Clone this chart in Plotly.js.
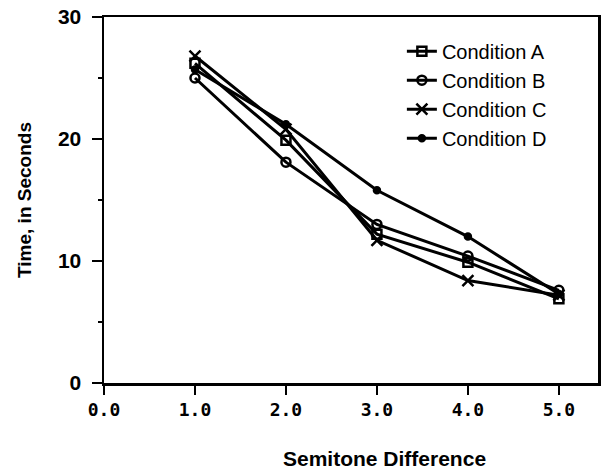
<!DOCTYPE html>
<html>
<head>
<meta charset="utf-8">
<script src="https://cdn.plot.ly/plotly-3.0.1.min.js"></script>
<style>html,body{margin:0;padding:0;background:#fff;}#chart{width:611px;height:474px;}</style>
</head>
<body>
<div id="chart"></div>
<script>
var semitones = [1, 2, 3, 4, 5];
var condA = [26.2, 19.9, 12.2, 9.9, 6.9];
var condB = [25.0, 18.1, 13.0, 10.4, 7.6];
var condC = [26.8, 20.8, 11.7, 8.4, 7.2];
var condD = [25.7, 21.2, 15.8, 12.0, 7.3];
var names = ['Condition A', 'Condition B', 'Condition C', 'Condition D'];
var xTicks = [0, 1, 2, 3, 4, 5];
var xTickText = ['0.0', '1.0', '2.0', '3.0', '4.0', '5.0'];
var yTicks = [0, 10, 20, 30];

var series = [condA, condB, condC, condD];
var symbols = ['square-open', 'circle-open', 'x-thin-open', 'circle'];
var sizes = [9, 9, 11, 6];
var traces = series.map(function (vals, i) {
  return {
    x: semitones, y: vals, name: names[i], type: 'scatter', mode: 'lines+markers',
    line: {color: '#000', width: 3},
    marker: {symbol: symbols[i], size: sizes[i], color: '#000', line: {color: '#000', width: 2.5}}
  };
});

var layout = {
  width: 611, height: 474,
  margin: {l: 104, r: 13, t: 17, b: 91},
  paper_bgcolor: '#fff', plot_bgcolor: '#fff',
  showlegend: true,
  legend: {x: 0.603, y: 0.96, xanchor: 'left', yanchor: 'top', bgcolor: 'rgba(0,0,0,0)',
           font: {family: 'Liberation Sans, Arial, sans-serif', size: 20, color: '#000'},
           tracegroupgap: 0, itemwidth: 30},
  xaxis: {
    range: [0, 5.43], tickvals: xTicks, ticktext: xTickText,
    showgrid: false, zeroline: false, showline: true, linecolor: '#000', linewidth: 2.5,
    mirror: true, ticks: 'outside', ticklen: 9, tickwidth: 2.5, tickcolor: '#000',
    tickfont: {family: 'DejaVu Sans Mono, monospace', size: 18, color: '#000', weight: 'bold'}
  },
  yaxis: {
    range: [0, 30], tickvals: yTicks,
    showgrid: false, zeroline: false, showline: true, linecolor: '#000', linewidth: 2.5,
    mirror: true, ticks: 'outside', ticklen: 10, tickwidth: 2.5, tickcolor: '#000',
    ticklabelstandoff: 6,
    tickfont: {family: 'Liberation Sans, Arial, sans-serif', size: 21, color: '#000', weight: 'bold'},
    minor: {dtick: 5, ticks: 'outside', ticklen: 4, tickwidth: 2, tickcolor: '#000', showgrid: false},
    title: {text: 'Time, in Seconds', standoff: 22,
            font: {family: 'Liberation Sans, Arial, sans-serif', size: 19, color: '#000', weight: 'bold'}}
  },
  annotations: [{
    text: 'Semitone Difference', xref: 'paper', yref: 'paper', x: 0.567, y: -0.205,
    xanchor: 'center', yanchor: 'middle', showarrow: false,
    font: {family: 'Liberation Sans, Arial, sans-serif', size: 21, color: '#000', weight: 'bold'}
  }]
};

Plotly.newPlot('chart', traces, layout, {displayModeBar: false, staticPlot: true});
</script>
</body>
</html>
